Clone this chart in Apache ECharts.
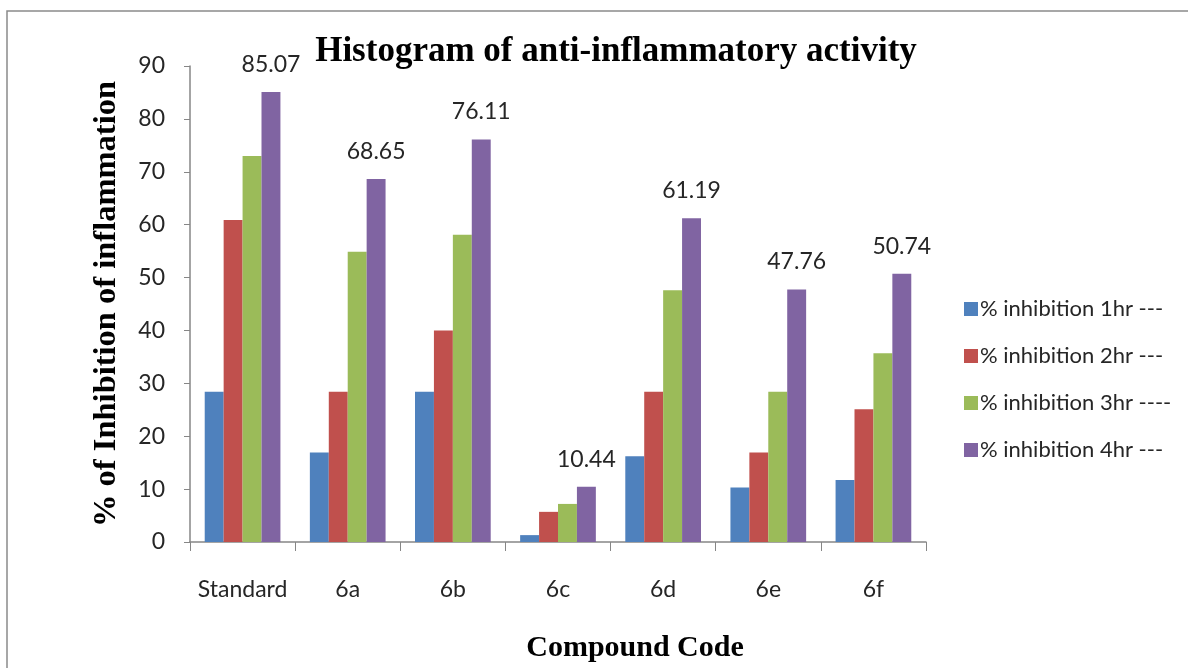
<!DOCTYPE html>
<html>
<head>
<meta charset="utf-8">
<script src="https://cdn.jsdelivr.net/npm/echarts@6/dist/echarts.min.js"></script>
<style>
  html, body { margin: 0; padding: 0; background: #fff; }
  #chart { width: 1188px; height: 668px; }
</style>
</head>
<body>
<div id="chart"></div>
<script>
// 化合物编号
var compounds = ['Standard', '6a', '6b', '6c', '6d', '6e', '6f'];
// 各时间点抑制率 (%)
var hr1 = [28.4, 16.9, 28.4, 1.3, 16.2, 10.3, 11.7];
var hr2 = [60.9, 28.4, 40.0, 5.7, 28.4, 16.9, 25.1];
var hr3 = [73.0, 54.9, 58.1, 7.2, 47.6, 28.4, 35.7];
var hr4 = [85.07, 68.65, 76.11, 10.44, 61.19, 47.76, 50.74];
var seriesNames = ['% inhibition 1hr ---', '% inhibition 2hr ---', '% inhibition 3hr ----', '% inhibition 4hr ---'];
var colors = ['#4F81BD', '#C0504D', '#9BBB59', '#8064A2'];

var sansFont = 'Lato';
var serifFont = 'Liberation Serif';

function makeBar(i, data, showLabel) {
  return {
    name: seriesNames[i],
    type: 'bar',
    data: data,
    barGap: 0,
    barCategoryGap: '28%',
    itemStyle: { color: colors[i] },
    label: {
      show: showLabel,
      position: 'top',
      distance: 16,
      fontFamily: sansFont,
      fontSize: 23,
      color: '#262626'
    }
  };
}

var myChart = echarts.init(document.getElementById('chart'));
var option = {
  backgroundColor: '#fff',
  animation: false,
  color: colors,
  graphic: [{
    type: 'rect',
    shape: { x: 7, y: 11, width: 1300, height: 800 },
    style: { fill: null, stroke: '#8a8a8a', lineWidth: 1.5 },
    silent: true
  }],
  title: {
    text: 'Histogram of anti-inflammatory activity',
    left: 611,
    top: 29,
    textAlign: 'center',
    textStyle: {
      fontFamily: serifFont,
      fontWeight: 'bold',
      fontSize: 35,
      color: '#000'
    }
  },
  legend: {
    orient: 'vertical',
    left: 959,
    top: 293,
    itemWidth: 14,
    itemHeight: 14,
    itemGap: 25,
    icon: 'rect',
    data: seriesNames,
    textStyle: {
      fontFamily: sansFont,
      fontSize: 22,
      lineHeight: 22,
      color: '#262626',
      padding: [0, 0, 0, -3]
    }
  },
  grid: {
    left: 190,
    right: 262,
    top: 66,
    bottom: 122
  },
  xAxis: {
    type: 'category',
    data: compounds,
    name: 'Compound Code',
    nameLocation: 'middle',
    nameGap: 91,
    nameTextStyle: {
      fontFamily: serifFont,
      fontWeight: 'bold',
      fontSize: 30,
      color: '#000',
      padding: [0, 0, 0, 154]
    },
    axisLine: { lineStyle: { color: '#868686', width: 1.5 } },
    axisTick: { show: true, length: 9, lineStyle: { color: '#868686' } },
    axisLabel: {
      interval: 0,
      margin: 36,
      fontFamily: sansFont,
      fontSize: 23,
      color: '#262626'
    }
  },
  yAxis: {
    type: 'value',
    min: 0,
    max: 90,
    interval: 10,
    name: '% of Inhibition of inflammation',
    nameLocation: 'middle',
    nameGap: 67,
    nameTextStyle: {
      fontFamily: serifFont,
      fontWeight: 'bold',
      fontSize: 32.5,
      color: '#000'
    },
    axisLine: { show: true, lineStyle: { color: '#868686', width: 1.5 } },
    axisTick: { show: true, length: 6, lineStyle: { color: '#868686' } },
    splitLine: { show: false },
    axisLabel: {
      margin: 25,
      fontFamily: sansFont,
      fontSize: 23,
      color: '#262626'
    }
  },
  series: [
    makeBar(0, hr1, false),
    makeBar(1, hr2, false),
    makeBar(2, hr3, false),
    makeBar(3, hr4, true)
  ]
};
myChart.setOption(option);
</script>
</body>
</html>
